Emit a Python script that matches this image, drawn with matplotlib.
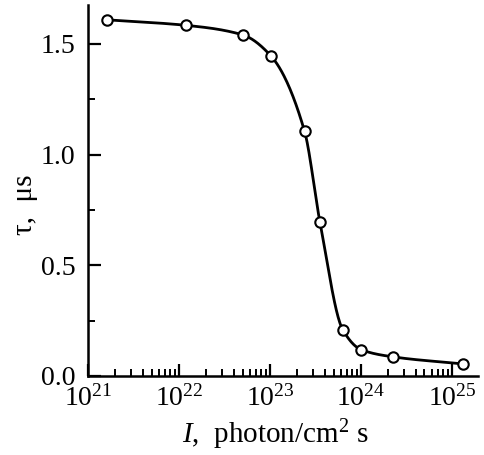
import numpy as np
import matplotlib
matplotlib.use("Agg")
import matplotlib.pyplot as plt
from matplotlib.ticker import LogLocator, NullFormatter, FixedLocator

# Data
log_I = [21.21, 22.08, 22.70, 23.01, 23.38, 23.55, 23.80, 24.00, 24.35, 25.12]
tau_us = [1.609, 1.584, 1.541, 1.446, 1.106, 0.694, 0.209, 0.119, 0.086, 0.054]
xtick_exps = [21, 22, 23, 24, 25]
ytick_vals = [0.0, 0.5, 1.0, 1.5]

plt.rcParams['font.family'] = ['Liberation Serif', 'DejaVu Serif']
plt.rcParams['mathtext.fontset'] = 'custom'
plt.rcParams['mathtext.rm'] = 'Liberation Serif'
plt.rcParams['mathtext.it'] = 'Liberation Serif:italic'


def pchip(x, y, xn):
    x = np.asarray(x, float); y = np.asarray(y, float)
    h = np.diff(x); d = np.diff(y) / h
    n = len(x); m = np.zeros(n)
    for k in range(1, n - 1):
        if d[k - 1] * d[k] > 0:
            w1 = 2 * h[k] + h[k - 1]; w2 = h[k] + 2 * h[k - 1]
            m[k] = (w1 + w2) / (w1 / d[k - 1] + w2 / d[k])
    m[0] = d[0]; m[-1] = d[-1]
    idx = np.clip(np.searchsorted(x, xn) - 1, 0, n - 2)
    t = (xn - x[idx]) / h[idx]
    h00 = 2 * t**3 - 3 * t**2 + 1; h10 = t**3 - 2 * t**2 + t
    h01 = -2 * t**3 + 3 * t**2; h11 = t**3 - t**2
    return h00 * y[idx] + h10 * h[idx] * m[idx] + h01 * y[idx + 1] + h11 * h[idx] * m[idx + 1]

fig = plt.figure(figsize=(4.84, 4.55), dpi=100)
ax = fig.add_axes([0.182, 0.174, 0.806, 0.815])

xs = np.linspace(log_I[0], log_I[-1], 600)
ys = pchip(log_I, tau_us, xs)
ax.plot(10**xs, ys, color='black', lw=2.0, zorder=2)
ax.plot(10**np.array(log_I), tau_us, 'o', ms=7.5, mfc='white', mec='black', mew=1.5, zorder=3)

ax.set_xscale('log')
ax.set_xlim(1e21, 10**25.29)
ax.set_ylim(0, 1.676)
ax.xaxis.set_major_locator(FixedLocator([10.0**e for e in xtick_exps]))
ax.set_xticklabels([r'$10^{%d}$' % e for e in xtick_exps])
ax.xaxis.set_minor_locator(LogLocator(base=10, subs=np.arange(2, 10), numticks=50))
ax.xaxis.set_minor_formatter(NullFormatter())
ax.set_yticks(ytick_vals)
ax.set_yticklabels(['%.1f' % v for v in ytick_vals])
ax.set_yticks([0.25, 0.75, 1.25], minor=True)

for s in ['top', 'right']:
    ax.spines[s].set_visible(False)
for s in ['left', 'bottom']:
    ax.spines[s].set_linewidth(1.8)

ax.tick_params(which='major', direction='in', length=9, width=1.6, labelsize=20)
ax.tick_params(axis='y', which='major', pad=9)
ax.tick_params(axis='x', which='major', pad=7)
ax.tick_params(which='minor', direction='in', length=5, width=1.4)

ax.set_xlabel(r'$I$,  photon/cm$^2$ s', fontsize=21)
ax.xaxis.set_label_coords(0.481, -0.181)
ax.xaxis.label.set_verticalalignment('baseline')
ax.set_ylabel('τ,  μs', fontsize=21)
ax.yaxis.set_label_coords(-0.1436, 0.461)
ax.yaxis.label.set_verticalalignment('baseline')

fig.savefig('out.png', dpi=100)
